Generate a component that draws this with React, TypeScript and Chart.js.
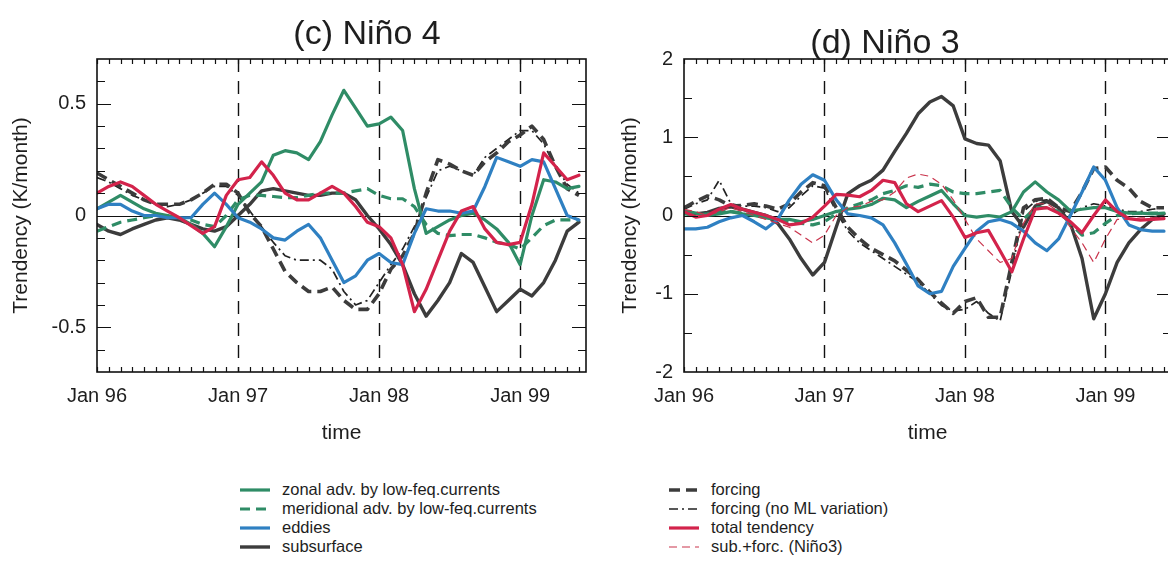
import React, { useEffect, useRef } from "react";
import { Chart, registerables } from "chart.js";

Chart.register(...registerables);

// ---------- data ----------
const MONTHS = [0, 1, 2, 3, 4, 5, 6, 7, 8, 9, 10, 11, 12, 13, 14, 15, 16, 17, 18, 19, 20, 21, 22, 23, 24, 25, 26, 27, 28, 29, 30, 31, 32, 33, 34, 35, 36, 37, 38, 39, 40, 41];
const X_TICK_VALUES = [0, 12, 24, 36];
const X_TICK_LABELS = ["Jan 96", "Jan 97", "Jan 98", "Jan 99"];
const YEAR_LINES = [12, 24, 36];

const N4_Y_TICKS = [-0.5, 0, 0.5];
const N4_Y_MINOR = [-0.6, -0.5, -0.4, -0.3, -0.2, -0.1, 0, 0.1, 0.2, 0.3, 0.4, 0.5, 0.6];
const N3_Y_TICKS = [-2, -1, 0, 1, 2];
const N3_Y_MINOR = [-1.5, -1, -0.5, 0, 0.5, 1, 1.5];

// Niño 4
const N4_ZONAL = [0.03, 0.06, 0.09, 0.06, 0.03, 0.01, 0.0, -0.01, -0.04, -0.08, -0.14, -0.05, 0.05, 0.10, 0.15, 0.27, 0.29, 0.28, 0.25, 0.33, 0.45, 0.56, 0.48, 0.40, 0.41, 0.44, 0.38, 0.12, -0.08, -0.05, -0.02, 0.0, 0.01, -0.02, -0.06, -0.12, -0.22, 0.0, 0.16, 0.15, 0.12, 0.13];
const N4_MERID = [-0.07, -0.05, -0.03, -0.02, -0.01, 0.0, 0.0, -0.01, -0.02, -0.04, -0.05, 0.0, 0.07, 0.09, 0.09, 0.085, 0.08, 0.08, 0.09, 0.10, 0.10, 0.10, 0.11, 0.12, 0.09, 0.075, 0.075, 0.04, -0.04, -0.08, -0.09, -0.085, -0.085, -0.10, -0.12, -0.13, -0.15, -0.10, -0.045, -0.02, -0.02, -0.02];
const N4_EDDIES = [0.03, 0.05, 0.05, 0.02, 0.0, 0.0, -0.01, -0.01, -0.01, 0.05, 0.10, 0.05, -0.01, -0.03, -0.06, -0.10, -0.11, -0.07, -0.04, -0.10, -0.20, -0.30, -0.27, -0.20, -0.17, -0.21, -0.22, -0.08, 0.03, 0.02, 0.02, 0.01, 0.02, 0.13, 0.26, 0.24, 0.22, 0.25, 0.24, 0.12, 0.0, -0.02];
const N4_SUBSURF = [-0.04, -0.07, -0.085, -0.06, -0.04, -0.02, -0.01, -0.02, -0.04, -0.06, -0.07, -0.05, 0.0, 0.05, 0.11, 0.12, 0.11, 0.10, 0.09, 0.09, 0.10, 0.10, 0.07, 0.0, -0.06, -0.13, -0.22, -0.35, -0.45, -0.38, -0.30, -0.17, -0.21, -0.32, -0.43, -0.38, -0.33, -0.36, -0.30, -0.20, -0.07, -0.03];
const N4_FORCING = [0.19, 0.16, 0.13, 0.10, 0.07, 0.05, 0.05, 0.05, 0.07, 0.10, 0.14, 0.14, 0.10, 0.01, -0.05, -0.15, -0.25, -0.30, -0.34, -0.34, -0.32, -0.38, -0.42, -0.42, -0.35, -0.24, -0.18, -0.08, 0.10, 0.25, 0.23, 0.20, 0.18, 0.24, 0.28, 0.33, 0.36, 0.40, 0.34, 0.22, 0.12, 0.09];
const N4_FORCING_NOML = [0.17, 0.15, 0.12, 0.09, 0.07, 0.05, 0.04, 0.05, 0.07, 0.10, 0.13, 0.13, 0.09, 0.02, -0.05, -0.12, -0.18, -0.20, -0.20, -0.20, -0.24, -0.34, -0.40, -0.38, -0.30, -0.22, -0.15, -0.05, 0.08, 0.20, 0.22, 0.20, 0.18, 0.26, 0.30, 0.34, 0.38, 0.38, 0.32, 0.22, 0.14, 0.10];
const N4_TOTAL = [0.10, 0.13, 0.15, 0.13, 0.09, 0.05, 0.02, -0.01, -0.045, -0.08, -0.05, 0.09, 0.16, 0.17, 0.24, 0.18, 0.10, 0.07, 0.07, 0.10, 0.13, 0.10, 0.04, -0.03, -0.05, -0.10, -0.22, -0.43, -0.33, -0.20, -0.07, 0.02, 0.04, -0.06, -0.12, -0.13, -0.12, 0.05, 0.28, 0.22, 0.16, 0.18];

// Niño 3
const N3_ZONAL = [0.06, 0.03, 0.0, 0.02, 0.05, 0.02, 0.0, -0.03, -0.05, -0.05, -0.08, -0.05, 0.0, 0.05, 0.08, 0.1, 0.14, 0.22, 0.2, 0.1, 0.18, 0.25, 0.32, 0.15, 0.0, -0.02, 0.0, -0.02, 0.05, 0.3, 0.43, 0.3, 0.2, 0.06, 0.08, 0.1, 0.1, 0.05, 0.03, 0.03, 0.02, 0.03];
const N3_MERID = [0.02, 0.0, 0.02, 0.05, 0.05, 0.03, 0.02, 0.0, -0.05, -0.08, -0.1, -0.12, -0.08, 0.02, 0.1, 0.15, 0.2, 0.28, 0.32, 0.38, 0.36, 0.40, 0.38, 0.30, 0.28, 0.28, 0.30, 0.32, 0.1, -0.05, 0.1, 0.1, 0.05, -0.1, -0.25, -0.22, -0.1, 0.0, 0.02, 0.03, 0.03, 0.03];
const N3_EDDIES = [-0.17, -0.17, -0.15, -0.08, -0.03, 0.0, -0.08, -0.17, -0.05, 0.2, 0.4, 0.52, 0.45, 0.2, 0.02, 0.0, -0.03, -0.12, -0.35, -0.62, -0.9, -1.0, -0.97, -0.65, -0.42, -0.2, -0.08, -0.05, -0.1, -0.2, -0.35, -0.45, -0.3, 0.0, 0.3, 0.62, 0.45, 0.1, -0.12, -0.18, -0.2, -0.2];
const N3_SUBSURF = [0.05, 0.02, 0.04, 0.09, 0.11, 0.08, 0.04, 0.0, -0.1, -0.3, -0.55, -0.76, -0.6, -0.15, 0.28, 0.38, 0.45, 0.58, 0.82, 1.05, 1.3, 1.45, 1.52, 1.40, 0.98, 0.92, 0.90, 0.70, 0.05, -0.15, 0.12, 0.18, 0.1, -0.1, -0.55, -1.32, -1.0, -0.6, -0.35, -0.18, -0.05, 0.02];
const N3_FORCING = [0.1, 0.18, 0.25, 0.2, 0.12, 0.13, 0.15, 0.12, 0.08, 0.15, 0.3, 0.42, 0.38, 0.1, -0.15, -0.3, -0.42, -0.5, -0.58, -0.7, -0.82, -0.98, -1.12, -1.25, -1.1, -1.05, -1.3, -1.3, -0.6, 0.1, 0.2, 0.22, 0.1, 0.05, 0.3, 0.6, 0.62, 0.45, 0.35, 0.18, 0.1, 0.1];
const N3_FORCING_NOML = [0.08, 0.15, 0.2, 0.45, 0.15, 0.12, 0.12, 0.1, 0.05, 0.1, 0.25, 0.38, 0.35, 0.05, -0.2, -0.35, -0.45, -0.55, -0.65, -0.75, -0.85, -1.0, -1.15, -1.22, -1.2, -1.1, -1.25, -1.35, -0.7, 0.05, 0.18, 0.2, 0.08, 0.0, 0.1, 0.15, 0.12, 0.08, 0.05, 0.05, 0.08, 0.1];
const N3_TOTAL = [0.05, -0.02, 0.0, 0.08, 0.14, 0.08, 0.04, 0.0, -0.05, -0.12, -0.1, -0.02, 0.12, 0.27, 0.26, 0.24, 0.32, 0.45, 0.42, 0.15, 0.05, 0.12, 0.19, -0.02, -0.28, -0.22, -0.19, -0.45, -0.72, -0.3, 0.08, 0.1, 0.03, -0.08, -0.22, 0.0, 0.2, 0.05, -0.04, -0.06, -0.05, -0.04];
const N3_SUBFORC = [0.08, 0.05, 0.0, 0.05, 0.1, 0.05, 0.0, -0.05, -0.1, -0.15, -0.25, -0.35, -0.25, 0.0, 0.1, 0.12, 0.18, 0.2, 0.3, 0.48, 0.53, 0.5, 0.4, 0.2, -0.05, -0.3, -0.45, -0.6, -0.55, -0.1, 0.15, 0.15, 0.05, -0.15, -0.35, -0.6, -0.3, -0.05, -0.05, -0.03, -0.03, -0.03];

// ---------- styles ----------
const GREEN = "#2f8c66";
const BLUE = "#2f80c2";
const RED = "#d3234b";
const DARK = "#3c3c3c";
const TEXT = "#1e1e1e";
const FONT = "'Liberation Sans', Arial, Helvetica, sans-serif";

const STYLES: Record<string, { color: string; width: number; dash: number[] }> = {
  total: { color: RED, width: 3.2, dash: [] },
  eddies: { color: BLUE, width: 3.2, dash: [] },
  zonal: { color: GREEN, width: 3.2, dash: [] },
  merid: { color: GREEN, width: 3.2, dash: [10, 6] },
  subsurf: { color: DARK, width: 3.4, dash: [] },
  forcing: { color: DARK, width: 3.6, dash: [11, 6] },
  noml: { color: "#222222", width: 1.7, dash: [9, 4, 2, 4] },
  subforc: { color: "#c9344c", width: 1.2, dash: [8, 5] },
};

const LABELS: Record<string, string> = {
  zonal: "zonal adv. by low-feq.currents",
  merid: "meridional adv. by low-feq.currents",
  eddies: "eddies",
  subsurf: "subsurface",
  forcing: "forcing",
  noml: "forcing (no ML variation)",
  total: "total tendency",
  subforc: "sub.+forc. (Niño3)",
};

const N4_SERIES: [string, number[]][] = [
  ["total", N4_TOTAL],
  ["eddies", N4_EDDIES],
  ["zonal", N4_ZONAL],
  ["merid", N4_MERID],
  ["subsurf", N4_SUBSURF],
  ["forcing", N4_FORCING],
  ["noml", N4_FORCING_NOML],
];
const N3_SERIES: [string, number[]][] = [
  ["total", N3_TOTAL],
  ["subforc", N3_SUBFORC],
  ["eddies", N3_EDDIES],
  ["zonal", N3_ZONAL],
  ["merid", N3_MERID],
  ["subsurf", N3_SUBSURF],
  ["forcing", N3_FORCING],
  ["noml", N3_FORCING_NOML],
];

// ---------- frame plugin (box, inward ticks, dashed year lines, zero line) ----------
const framePlugin = {
  id: "frame",
  beforeDatasetsDraw(chart: any, _a: any, opts: any) {
    const { ctx, chartArea } = chart;
    const { left, right, top, bottom } = chartArea;
    const x = chart.scales.x;
    const y = chart.scales.y;
    ctx.save();
    ctx.strokeStyle = "#111";
    ctx.lineWidth = 1.2;
    const y0 = Math.round(y.getPixelForValue(0)) + 0.5;
    ctx.beginPath();
    ctx.moveTo(left, y0);
    ctx.lineTo(right, y0);
    ctx.stroke();
    ctx.setLineDash([13, 9]);
    ctx.lineWidth = 1.4;
    for (const v of opts.yearLines) {
      const px = Math.round(x.getPixelForValue(v)) + 0.5;
      ctx.beginPath();
      ctx.moveTo(px, top);
      ctx.lineTo(px, bottom);
      ctx.stroke();
    }
    ctx.restore();
  },
  afterDatasetsDraw(chart: any, _a: any, opts: any) {
    const { ctx, chartArea } = chart;
    const { left, right, top, bottom } = chartArea;
    const x = chart.scales.x;
    const y = chart.scales.y;
    ctx.save();
    ctx.strokeStyle = "#111";
    ctx.lineWidth = 1.2;
    ctx.beginPath();
    for (const m of opts.xMinor) {
      const px = Math.round(x.getPixelForValue(m)) + 0.5;
      ctx.moveTo(px, top);
      ctx.lineTo(px, top + 5);
      ctx.moveTo(px, bottom);
      ctx.lineTo(px, bottom - 5);
    }
    for (const v of opts.yMinor) {
      const py = Math.round(y.getPixelForValue(v)) + 0.5;
      const len = opts.yMajor.includes(v) ? 14 : 8;
      ctx.moveTo(left, py);
      ctx.lineTo(left + len, py);
      ctx.moveTo(right, py);
      ctx.lineTo(right - len, py);
    }
    ctx.stroke();
    ctx.lineWidth = 1.6;
    ctx.strokeRect(left, top, right - left, bottom - top);
    ctx.restore();
  },
};

type PanelCfg = {
  left: number;
  width: number;
  yWidth: number;
  padRight: number;
  yMin: number;
  yMax: number;
  yTicks: number[];
  yMinor: number[];
  yTitlePad: number;
  series: [string, number[]][];
};

function Panel({ cfg }: { cfg: PanelCfg }) {
  const ref = useRef<HTMLCanvasElement>(null);
  useEffect(() => {
    const chart = new Chart(ref.current as HTMLCanvasElement, {
      type: "line",
      data: {
        datasets: cfg.series.map(([key, vals]) => {
          const st = STYLES[key];
          return {
            label: LABELS[key],
            data: MONTHS.map((m, i) => ({ x: m, y: vals[i] })),
            borderColor: st.color,
            backgroundColor: st.color,
            borderWidth: st.width,
            borderDash: st.dash,
            borderJoinStyle: "round",
            borderCapStyle: st.dash.length ? "butt" : "round",
            pointRadius: 0,
            tension: 0,
            fill: false,
          };
        }),
      } as any,
      options: {
        animation: false,
        responsive: false,
        maintainAspectRatio: false,
        events: [],
        layout: { padding: { top: 59, right: cfg.padRight, left: 0, bottom: 0 } },
        plugins: {
          legend: { display: false },
          tooltip: { enabled: false },
          frame: { yearLines: YEAR_LINES, xMinor: MONTHS, yMinor: cfg.yMinor, yMajor: cfg.yTicks },
        } as any,
        scales: {
          x: {
            type: "linear",
            min: 0,
            max: 41.6,
            grid: { display: false, drawTicks: false },
            border: { display: false },
            afterBuildTicks: (s: any) => {
              s.ticks = X_TICK_VALUES.map((v) => ({ value: v }));
            },
            ticks: {
              autoSkip: false,
              maxRotation: 0,
              padding: 12,
              color: TEXT,
              font: { family: FONT, size: 20 },
              callback: (_v: any, i: number) => X_TICK_LABELS[i],
            },
            title: {
              display: true,
              text: "time",
              color: TEXT,
              font: { family: FONT, size: 21 },
              padding: { top: 0, bottom: 14 },
            },
            afterFit: (s: any) => {
              s.height = 88;
            },
          },
          y: {
            type: "linear",
            min: cfg.yMin,
            max: cfg.yMax,
            grid: { display: false, drawTicks: false },
            border: { display: false },
            afterBuildTicks: (s: any) => {
              s.ticks = cfg.yTicks.map((v) => ({ value: v }));
            },
            ticks: {
              padding: 11,
              color: TEXT,
              font: { family: FONT, size: 20 },
              callback: (v: any) => String(v),
            },
            title: {
              display: true,
              text: "Trendency (K/month)",
              color: TEXT,
              font: { family: FONT, size: 21 },
              padding: { top: cfg.yTitlePad, bottom: 0 },
            },
            afterFit: (s: any) => {
              s.width = cfg.yWidth;
            },
          },
        },
      } as any,
      plugins: [framePlugin as any],
    });
    return () => chart.destroy();
  }, []);
  return (
    <canvas
      ref={ref}
      width={cfg.width}
      height={460}
      style={{ position: "absolute", left: cfg.left, top: 0, width: cfg.width, height: 460 }}
    />
  );
}

function Sample({ k }: { k: string }) {
  const st = STYLES[k];
  return (
    <svg width={34} height={10} style={{ display: "block", flex: "none" }}>
      <line
        x1={2}
        y1={5}
        x2={32}
        y2={5}
        stroke={st.color}
        strokeWidth={st.width}
        strokeDasharray={st.dash.length ? st.dash.join(" ") : undefined}
      />
    </svg>
  );
}

const LEGEND_COL1 = ["zonal", "merid", "eddies", "subsurf"];
const LEGEND_COL2 = ["forcing", "noml", "total", "subforc"];

function LegendCol({ keys, left }: { keys: string[]; left: number }) {
  return (
    <>
      {keys.map((k, i) => (
        <div
          key={k}
          style={{
            position: "absolute",
            left,
            top: 480 + i * 19,
            height: 19,
            display: "flex",
            alignItems: "center",
            gap: 10,
            fontFamily: FONT,
            fontSize: 16.5,
            color: TEXT,
            whiteSpace: "nowrap",
          }}
        >
          <Sample k={k} />
          <span>{LABELS[k]}</span>
        </div>
      ))}
    </>
  );
}

const N4_CFG: PanelCfg = {
  left: 0,
  width: 600,
  yWidth: 97,
  padRight: 14,
  yMin: -0.7,
  yMax: 0.7,
  yTicks: N4_Y_TICKS,
  yMinor: N4_Y_MINOR,
  yTitlePad: 9,
  series: N4_SERIES,
};
const N3_CFG: PanelCfg = {
  left: 600,
  width: 590,
  yWidth: 84,
  padRight: 19,
  yMin: -2,
  yMax: 2,
  yTicks: N3_Y_TICKS,
  yMinor: N3_Y_MINOR,
  yTitlePad: 18,
  series: N3_SERIES,
};

export default function App() {
  const titleStyle: React.CSSProperties = {
    position: "absolute",
    fontFamily: FONT,
    fontSize: 34,
    color: TEXT,
    transform: "translate(-50%, -50%)",
    whiteSpace: "nowrap",
  };
  return (
    <div
      style={{
        position: "absolute",
        left: 0,
        top: 0,
        width: 1168,
        height: 573,
        overflow: "hidden",
        background: "#fff",
      }}
    >
      <Panel cfg={N4_CFG} />
      <Panel cfg={N3_CFG} />
      <div style={{ ...titleStyle, left: 367, top: 32 }}>(c) Niño 4</div>
      <div style={{ ...titleStyle, left: 885, top: 41 }}>(d) Niño 3</div>
      <LegendCol keys={LEGEND_COL1} left={238} />
      <LegendCol keys={LEGEND_COL2} left={667} />
    </div>
  );
}
